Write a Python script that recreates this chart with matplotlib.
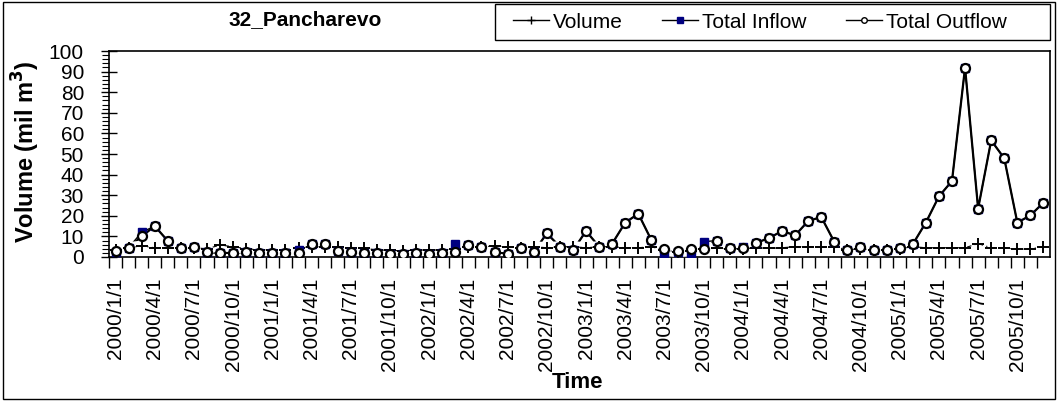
import numpy as np
import pandas as pd
import matplotlib
matplotlib.use("Agg")
import matplotlib.pyplot as plt
from matplotlib.lines import Line2D
from matplotlib.patches import Rectangle
from matplotlib.ticker import MultipleLocator, FixedLocator

plt.rcParams['font.family'] = ['Liberation Sans', 'DejaVu Sans']

# =========================================
# Data (monthly, 2000/1 - 2005/12)
# =========================================

months = pd.date_range("2000-01-01", "2005-12-01", freq="MS")
month_labels = [f"{d.year}/{d.month}/1" for d in months]

volume = [
    3.5, 4.5, 5.3, 4.5, 4.5, 4.5, 4.5, 4.0, 5.8, 5.0, 4.0, 3.5,
    3.5, 3.5, 4.5, 5.0, 5.0, 5.0, 4.2, 4.2, 3.5, 3.2, 3.0, 3.4,
    3.4, 3.4, 4.0, 5.0, 5.0, 5.3, 5.0, 4.5, 5.0, 4.5, 5.0, 5.0,
    4.5, 5.0, 5.0, 4.5, 4.5, 5.0, 3.2, 2.6, 3.0, 4.0, 4.2, 4.0,
    4.0, 4.5, 4.2, 4.5, 5.0, 5.0, 4.8, 5.0, 3.5, 4.0, 3.5, 3.5,
    4.0, 5.0, 4.5, 4.5, 4.5, 4.5, 6.5, 4.5, 4.5, 3.7, 4.0, 5.0,
]

total_inflow = [
    2.5, 4.5, 12.0, 15.0, 7.8, 4.5, 5.0, 2.4, 2.0, 2.0, 2.4, 2.0,
    2.0, 2.0, 3.5, 6.5, 6.5, 3.0, 2.5, 2.0, 2.0, 1.6, 1.6, 2.0,
    1.6, 2.0, 6.2, 5.7, 5.0, 2.4, 1.6, 4.2, 2.4, 11.5, 5.0, 3.2,
    12.6, 5.0, 6.5, 16.7, 21.0, 8.2, 2.0, 2.5, 2.0, 7.4, 8.0, 4.2,
    5.0, 6.8, 9.2, 12.6, 10.5, 17.5, 19.4, 7.3, 3.2, 4.9, 3.2, 3.2,
    4.2, 6.2, 16.7, 29.4, 36.9, 91.9, 23.5, 56.6, 47.9, 16.7, 20.2, 26.4,
]

total_outflow = [
    3.0, 4.5, 10.0, 15.0, 7.8, 4.5, 5.0, 2.4, 2.0, 2.0, 2.4, 2.0,
    2.0, 2.0, 2.0, 6.5, 6.5, 3.0, 2.5, 2.0, 2.0, 1.6, 1.6, 2.0,
    1.6, 2.0, 2.6, 5.7, 5.0, 2.4, 1.6, 4.2, 2.4, 11.5, 5.0, 3.2,
    12.6, 5.0, 6.5, 16.7, 21.0, 8.2, 3.7, 2.9, 3.7, 4.0, 8.0, 4.2,
    4.2, 6.8, 9.2, 12.6, 10.5, 17.5, 19.4, 7.3, 3.2, 4.9, 3.2, 3.2,
    4.2, 6.2, 16.7, 29.4, 36.9, 91.9, 23.5, 56.6, 47.9, 16.7, 20.2, 26.4,
]

x = np.arange(len(months))

# =========================================
# Figure
# =========================================

fig = plt.figure(figsize=(10.58, 4.01), dpi=100)
ax = fig.add_axes([109 / 1058, 1 - 257 / 401, (1050 - 109) / 1058, (257 - 51) / 401])

# inflow / outflow lines
ax.plot(x, total_inflow, color='black', lw=1.0, zorder=2)
ax.plot(x, total_outflow, color='black', lw=1.6, zorder=2)

# volume: wide white band with dash-dot line on top
ax.plot(x, volume, color='white', lw=8, zorder=3, solid_capstyle='butt')
ax.plot(x, volume, color='black', lw=0.8, ls=(0, (4, 3, 1, 3)), zorder=4)

# markers
ax.plot(x, volume, ls='none', marker='+', ms=8, mew=1.4, color='black', zorder=5)
ax.plot(x, total_inflow, ls='none', marker='s', ms=5.5, mfc='#000080', mec='#000080', zorder=5)
ax.plot(x, total_outflow, ls='none', marker='o', ms=6.5, mfc='white', mec='black', mew=1.6, zorder=6)

ax.set_xlim(-0.5, len(months) - 0.5)
ax.set_ylim(0, 100)

# y axis
ax.yaxis.set_major_locator(MultipleLocator(10))
ax.yaxis.set_minor_locator(MultipleLocator(2))
ax.tick_params(axis='y', which='major', direction='inout', length=12, width=1,
               labelsize=15, pad=12)
ax.tick_params(axis='y', which='minor', direction='out', length=5, width=0.8)

# x axis: tick marks between months, labels every 3 months
ax.xaxis.set_major_locator(FixedLocator(x - 0.5))
ax.xaxis.set_major_formatter(plt.NullFormatter())
ax.set_xticks(x[::3], [month_labels[i] for i in x[::3]], minor=True)
ax.tick_params(axis='x', which='major', direction='out', length=8, width=1)
ax.tick_params(axis='x', which='minor', length=0, labelsize=15, pad=15,
               labelrotation=90)

for s in ax.spines.values():
    s.set_linewidth(1.2)
    s.set_zorder(2.5)

# =========================================
# Texts
# =========================================

fig.text(305 / 1058, 1 - 20 / 401, "32_Pancharevo", ha='center', va='center',
         fontsize=15, fontweight='bold')
fig.text(26 / 1058, 1 - 152 / 401, "Volume (mil m$^{\\mathbf{3}}$)", rotation=90,
         ha='center', va='center', fontsize=17, fontweight='bold')
fig.text(578 / 1058, 1 - 382 / 401, "Time", ha='center', va='center',
         fontsize=16, fontweight='bold')

handles = [
    Line2D([], [], color='black', lw=1, marker='+', ms=6, mew=1),
    Line2D([], [], color='black', lw=1, marker='s', ms=4, mfc='#000080', mec='#000080'),
    Line2D([], [], color='black', lw=1, marker='o', ms=4, mfc='white', mec='black'),
]
leg = fig.legend(handles, ["Volume", "Total Inflow", "Total Outflow"],
                 loc='center', bbox_to_anchor=(760 / 1058, 1 - 22 / 401),
                 ncol=3, fontsize=15, frameon=False,
                 handlelength=1.7, handletextpad=0.2, columnspacing=1.9)

# legend box and outer border
fig.patches.append(Rectangle((495 / 1058, 1 - 40 / 401), 555 / 1058, 36 / 401,
                             transform=fig.transFigure, fill=False,
                             edgecolor='black', lw=1))
fig.patches.append(Rectangle((0.003, 0.005), 0.994, 0.99, transform=fig.transFigure,
                             fill=False, edgecolor='black', lw=1))

plt.savefig("out.png", dpi=100)
